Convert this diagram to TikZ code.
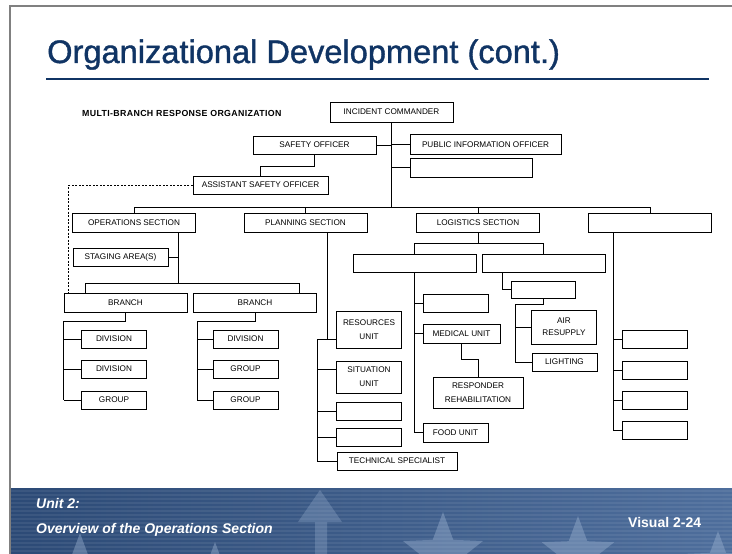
\documentclass[tikz,border=0pt]{standalone}
\usepackage{fontspec}
\setmainfont{Liberation Sans}
\usetikzlibrary{shapes.geometric}
\definecolor{titleblue}{RGB}{16,52,100}
\definecolor{banddark}{RGB}{44,74,118}
\definecolor{bandlight}{RGB}{78,110,156}
\definecolor{starblue}{RGB}{160,182,212}
\definecolor{framegray}{RGB}{128,128,128}
\begin{document}
\begin{tikzpicture}[x=1pt,y=-1pt,
    unitbox/.style={draw,line width=0.9pt,inner sep=0pt,align=center,
      font=\fontsize{8.2}{14}\selectfont,minimum width=65,minimum height=18},
    wide/.style={minimum width=123},
    link/.style={line width=0.9pt},
    footer/.style={anchor=base west,inner sep=0pt,text=white,
      font=\fontsize{14}{16}\selectfont\bfseries},
    pale/.style={star,star points=5,star point ratio=2.4,inner sep=0pt,
      fill=starblue,opacity=0.4}]
  \useasboundingbox (0,0) rectangle (732,554);
  \shade[left color=banddark,right color=bandlight] (10,488) rectangle (732,554);
  \begin{scope}
    \clip (10,488) rectangle (732,554);
    \foreach \y in {491,495,...,553}
      \draw[white,opacity=0.07,line width=1.2pt] (10,\y) -- (732,\y);
    \node[pale,minimum size=70] (st1) at (80,568) {};
    \node[pale,minimum size=60] (st2) at (215,572) {};
    \node[pale,minimum size=84] (st3) at (443,554) {};
    \node[pale,minimum size=76] (st4) at (578,554) {};
    \node[pale,minimum size=66] (st5) at (718,564) {};
    \fill[starblue,opacity=0.3] (320,490) -- (298,522) -- (315,522) -- (315,554)
      -- (327,554) -- (327,522) -- (342,522) -- cycle;
  \end{scope}
  \draw[framegray,line width=1.5pt] (10,554) -- (10,6) -- (732,6);
  \node[anchor=base west,inner sep=0pt,text=titleblue,
    font=\fontsize{32.6}{36}\selectfont\addfontfeature{FakeBold=1.2}] (title) at (47,63)
    {Organizational Development (cont.)};
  \draw[titleblue,line width=2pt] (46,79) -- (709,79);
  \node[anchor=base west,inner sep=0pt,
    font=\fontsize{8.8}{10}\selectfont\bfseries\addfontfeature{LetterSpace=4}]
    (orglabel) at (82,116) {MULTI-BRANCH RESPONSE ORGANIZATION};
  \node[footer,font=\fontsize{14}{16}\selectfont\bfseries\itshape] (unitno) at (36,508) {Unit 2:};
  \node[footer,font=\fontsize{14}{16}\selectfont\bfseries\itshape] (unitname) at (36,533)
    {Overview of the Operations Section};
  \node[footer] (visual) at (628,527) {Visual 2-24};

  \node[unitbox,wide,minimum height=20] (ic) at (391.5,112) {INCIDENT COMMANDER};
  \node[unitbox,wide] (so) at (314.5,145) {SAFETY OFFICER};
  \node[unitbox,minimum width=151,minimum height=20] (pio) at (485.5,144.5) {PUBLIC INFORMATION OFFICER};
  \node[unitbox,minimum width=122,minimum height=19] (lno) at (471,167.5) {};
  \node[unitbox,minimum width=135] (aso) at (260.5,185) {ASSISTANT SAFETY OFFICER};
  \node[unitbox,wide,minimum height=19] (ops) at (134,222.5) {OPERATIONS SECTION};
  \node[unitbox,wide,minimum height=19] (plan) at (305.5,222.5) {PLANNING SECTION};
  \node[unitbox,wide,minimum height=19] (log) at (478,222.5) {LOGISTICS SECTION};
  \node[unitbox,wide,minimum height=19] (fin) at (650,222.5) {};
  \node[unitbox,minimum width=95] (stage) at (120.5,257) {STAGING AREA(S)};
  \node[unitbox,wide,minimum height=19] (br1) at (125.5,302.5) {BRANCH};
  \node[unitbox,wide,minimum height=19] (br2) at (255,302.5) {BRANCH};
  \node[unitbox] (div1a) at (114,339) {DIVISION};
  \node[unitbox] (div1b) at (114,369) {DIVISION};
  \node[unitbox] (grp1c) at (114,400) {GROUP};
  \node[unitbox] (div2a) at (245.5,339) {DIVISION};
  \node[unitbox] (grp2b) at (245.5,369) {GROUP};
  \node[unitbox] (grp2c) at (245.5,400) {GROUP};
  \node[unitbox,minimum height=37] (res) at (369,329.5) {RESOURCES\\UNIT};
  \node[unitbox,minimum height=32] (sit) at (369,377) {SITUATION\\UNIT};
  \node[unitbox] (pu1) at (369,411) {};
  \node[unitbox] (pu2) at (369,437) {};
  \node[unitbox,minimum width=120] (tech) at (397,461) {TECHNICAL SPECIALIST};
  \node[unitbox,wide] (supb) at (414.5,263) {};
  \node[unitbox,wide] (svcb) at (543.5,263) {};
  \node[unitbox] (lu1) at (455.5,303) {};
  \node[unitbox,minimum width=77,minimum height=19] (med) at (461.5,333.5) {MEDICAL UNIT};
  \node[unitbox,minimum width=90,minimum height=31] (rehab) at (478,392.5) {RESPONDER\\REHABILITATION};
  \node[unitbox,minimum height=19] (food) at (455.5,432.5) {FOOD UNIT};
  \node[unitbox,minimum width=64,minimum height=17] (fac) at (543,289.5) {};
  \node[unitbox,minimum height=34,font=\fontsize{8.2}{12}\selectfont] (air) at (564,327) {AIR\\RESUPPLY};
  \node[unitbox] (light) at (564.5,362) {LIGHTING};
  \foreach \n/\y in {1/339,2/370,3/400,4/430.5}
    \node[unitbox] (fu\n) at (654.5,\y) {};

  \begin{scope}[link]
    \draw (ic.south) -- ++(0,85) coordinate (secbus);
    \draw (so.east) -- (so.east -| ic.south);
    \draw (pio.west) -- (pio.west -| ic.south);
    \draw (lno.west) -- (lno.west -| ic.south);
    \draw (so.south) -- ++(0,12) -| (aso.north);
    \draw[line width=0.8pt,dash pattern=on 2pt off 1.5pt] (aso.west) -| ([xshift=5]br1.north west);
    \draw (ops.north) |- (secbus) -| (fin.north);
    \draw (plan.north) -- (plan.north |- secbus);
    \draw (log.north) -- (log.north |- secbus);

    \draw ([xshift=44]ops.south) -- ++(0,51) coordinate (opsbus);
    \draw (stage.east) -- (stage.east -| opsbus);
    \draw ([xshift=-40]br1.north) |- (opsbus) -| ([xshift=44]br2.north);
    \draw (br1.south) -- ++(0,9) -| (br1.west |- grp1c.west);
    \foreach \n in {div1a,div1b,grp1c}
      \draw (\n.west) -- (\n.west -| br1.west);
    \coordinate (brrail) at ([xshift=4]br2.west);
    \draw (br2.south) -- ++(0,9) -| (brrail |- grp2c.west);
    \foreach \n in {div2a,grp2b,grp2c}
      \draw (\n.west) -- (\n.west -| brrail);

    \draw ([xshift=21.5]plan.south) |- ([yshift=-9.5]res.west);
    \path ([yshift=-9.5]res.west) ++(-19,0) coordinate (planrail);
    \draw (planrail) -- ([yshift=-9.5]res.west);
    \draw (planrail) |- (tech.west);
    \draw ([yshift=8]sit.west) -- ++(-19,0);
    \foreach \n in {pu1,pu2}
      \draw (\n.west) -- ++(-19,0);

    \draw (log.south) -- ++(0,11) coordinate (logbus);
    \draw (supb.north) |- (logbus) -| (svcb.north);
    \draw (supb.south) |- (food.west);
    \draw (lu1.west) -- (lu1.west -| supb.south);
    \draw (med.west) -- (med.west -| supb.south);
    \draw (med.south) -- ++(0,16) -| (rehab.north);
    \draw ([xshift=-41.5]svcb.south) |- (fac.west);
    \path (light.west) ++(-16,0) coordinate (lightrail);
    \draw (fac.south) -- ++(0,6) -| (lightrail) -- (light.west);
    \draw (air.west) -- ++(-16,0);

    \draw ([xshift=-37]fin.south) |- (fu4.west);
    \foreach \n in {1,2,3}
      \draw (fu\n.west) -- ++(-9,0);
  \end{scope}
\end{tikzpicture}
\end{document}
